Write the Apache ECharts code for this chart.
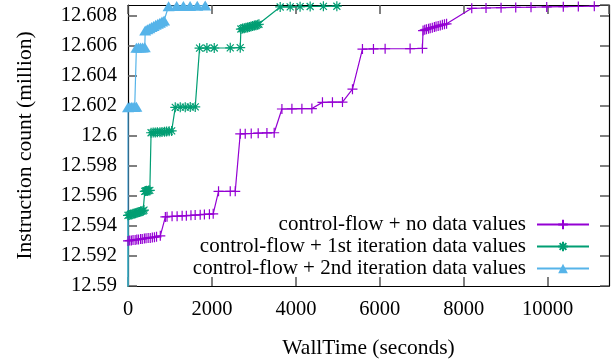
<!DOCTYPE html>
<html><head><meta charset="utf-8">
<script src="https://cdn.jsdelivr.net/npm/echarts@6/dist/echarts.min.js"></script>
<style>html,body{margin:0;padding:0;background:#fff}#c{width:613px;height:364px}</style>
</head><body><div id="c"></div>
<script>
const seriesNames = ['control-flow + no data values','control-flow + 1st iteration data values','control-flow + 2nd iteration data values'];
const xTicks = [0,2000,4000,6000,8000,10000];
const yTicks = [12.59,12.592,12.594,12.596,12.598,12.6,12.602,12.604,12.606,12.608];

const noDataX = [0,40,80,120,170,210,250,300,340,390,430,480,530,580,630,680,770,
  890,930,1050,1170,1290,1390,1500,1600,1720,1820,1940,2030,
  2157,2436,2555,
  2674,2793,2936,3102,3310,3483,
  3667,3905,4143,4381,
  4633,4871,5110,
  5348,
  5586,5848,6126,6721,7014,
  7030,7070,7110,7160,7200,7250,7300,7340,7390,7440,7490,7540,7590,
  8190,8530,8888,9238,9602,9976,10371,10729,11110];
const noDataY = [12.5930,12.59302,12.59303,12.59306,12.59306,12.59309,12.5931,12.59312,12.59313,12.59316,12.59317,12.5932,12.5932,12.59323,12.59325,12.59327,12.59334,
  12.5946,12.59461,12.59464,12.59465,12.59467,12.59468,12.5947,12.59472,12.59474,12.59476,12.59478,12.5948,
  12.5963,12.5963,12.5963,
  12.60013,12.60014,12.60015,12.60017,12.60019,12.6002,
  12.60178,12.60179,12.6018,12.60181,
  12.60222,12.60223,12.60224,
  12.6031,
  12.60577,12.60578,12.60579,12.6058,12.60581,
  12.6070,12.60705,12.60708,12.60712,12.60716,12.60719,12.60723,12.60727,12.6073,12.60734,12.60738,12.60742,12.60745,
  12.60848,12.6085,12.60852,12.60854,12.60855,12.60857,12.60859,12.6086,12.60862];

const iter1X = [0,0,30,60,90,120,150,180,210,240,270,300,330,360,380,
  400,420,440,460,490,520,
  550,600,650,700,760,810,870,920,980,1040,
  1126,1245,1364,1483,1602,
  1705,1880,2055,2436,2674,
  2690,2730,2770,2810,2850,2890,2930,2970,3010,3050,3090,3120,
  3626,3864,4100,4340,4655,4976];
const iter1Y = [12.585,12.5947,12.59472,12.59475,12.59476,12.5948,12.59482,12.59484,12.59487,12.5949,12.59492,12.59495,12.59498,12.5950,12.59505,
  12.5963,12.59632,12.59634,12.59633,12.59635,12.59636,
  12.6002,12.60021,12.60022,12.60023,12.60024,12.60025,12.60026,12.60028,12.6003,12.60032,
  12.60189,12.6019,12.6019,12.60191,12.60192,
  12.60583,12.60584,12.60584,12.60585,12.60586,
  12.6071,12.60713,12.60716,12.60718,12.60721,12.60724,12.60727,12.6073,12.60733,12.60736,12.60739,12.60742,
  12.60857,12.60858,12.60859,12.6086,12.60861,12.60862];

const iter2X = [0,0,40,80,120,160,200,
  200,250,300,350,400,
  410,460,510,560,610,660,710,760,810,860,
  967,1160,1320,1480,1650,1840];
const iter2Y = [12.585,12.6019,12.60191,12.60191,12.60192,12.60192,12.60193,
  12.60586,12.60587,12.60587,12.60588,12.60589,
  12.607,12.60708,12.60716,12.60724,12.60731,12.60738,12.60745,12.60752,12.6076,12.60767,
  12.60862,12.60863,12.60864,12.60864,12.60865,12.60866];

const colors = ['#9400d3','#009e73','#56b4e9'];
const FONT = "'Liberation Serif','Times New Roman',serif";
const FS_TICK = 20.5, FS_LEG = 21, FS_NAME = 21.5;
const zip = (xs, ys) => xs.map((x, i) => [x, ys[i]]);
const X_MIN = 0, X_MAX = 11460, Y_MIN = 12.59, Y_MAX = 12.6087;

const yFmt = v => {
  const hit = yTicks.find(t => Math.abs(t - v) < 1e-7);
  return hit === undefined ? '' : String(+hit.toFixed(3));
};
const xFmt = v => xTicks.indexOf(Math.round(v)) >= 0 && Math.abs(v - Math.round(v)) < 1e-6 ? String(Math.round(v)) : '';

const tickStyle = {show: true, inside: true, length: 9, lineStyle: {color: '#555', width: 1.5}};
const axisLine = {show: true, onZero: false, lineStyle: {color: '#000', width: 1.2}};

const plusPath = 'path://M0,5L10,5M5,0L5,10';
const starPath = 'path://M0,5L10,5M5,0L5,10M1.5,1.5L8.5,8.5M8.5,1.5L1.5,8.5';

const chart = echarts.init(document.getElementById('c'), null, {renderer: 'canvas'});
chart.setOption({
  animation: false,
  backgroundColor: '#fff',
  grid: {left: 128, right: 4, top: 5, bottom: 75, containLabel: false},
  legend: {
    orient: 'vertical', right: 23, top: 214, align: 'right', padding: 0,
    itemWidth: 52, itemHeight: 12, itemGap: 1,
    textStyle: {fontFamily: FONT, fontSize: FS_LEG, color: '#000', lineHeight: 20, padding: [0, 6, 0, 0]},
    data: seriesNames
  },
  xAxis: [{
    type: 'value', min: X_MIN, max: X_MAX, interval: 2000, position: 'bottom',
    axisLine, axisTick: tickStyle, splitLine: {show: false},
    axisLabel: {formatter: xFmt, fontFamily: FONT, fontSize: FS_TICK, color: '#000', margin: 13, showMaxLabel: false},
    name: 'WallTime (seconds)', nameLocation: 'middle', nameGap: 51,
    nameTextStyle: {fontFamily: FONT, fontSize: FS_NAME, color: '#000'}
  }, {
    type: 'value', min: X_MIN, max: X_MAX, interval: 2000, position: 'top',
    axisLine, axisTick: tickStyle, splitLine: {show: false}, axisLabel: {show: false}
  }],
  yAxis: [{
    type: 'value', min: Y_MIN, max: Y_MAX, interval: 0.002, position: 'left',
    axisLine, axisTick: tickStyle, splitLine: {show: false},
    axisLabel: {formatter: yFmt, fontFamily: FONT, fontSize: FS_TICK, color: '#000', margin: 11, showMaxLabel: false},
    name: 'Instruction count (million)', nameLocation: 'middle', nameGap: 92, nameRotate: 90,
    nameTextStyle: {fontFamily: FONT, fontSize: FS_NAME, color: '#000'}
  }, {
    type: 'value', min: Y_MIN, max: Y_MAX, interval: 0.002, position: 'right',
    axisLine, axisTick: tickStyle, splitLine: {show: false}, axisLabel: {show: false}
  }],
  series: [
    {name: seriesNames[0], type: 'line', data: zip(noDataX, noDataY), clip: true,
     symbol: plusPath, symbolSize: 10, showAllSymbol: true,
     lineStyle: {color: colors[0], width: 1.2},
     itemStyle: {color: 'rgba(0,0,0,0)', borderColor: colors[0], borderWidth: 1.2}},
    {name: seriesNames[1], type: 'line', data: zip(iter1X, iter1Y), clip: true,
     symbol: starPath, symbolSize: 10, showAllSymbol: true,
     lineStyle: {color: colors[1], width: 1.2},
     itemStyle: {color: 'rgba(0,0,0,0)', borderColor: colors[1], borderWidth: 1.2}},
    {name: seriesNames[2], type: 'line', data: zip(iter2X, iter2Y), clip: true,
     symbol: 'triangle', symbolSize: [12, 10], showAllSymbol: true,
     lineStyle: {color: colors[2], width: 1.2},
     itemStyle: {color: colors[2]}}
  ]
});
</script></body></html>
